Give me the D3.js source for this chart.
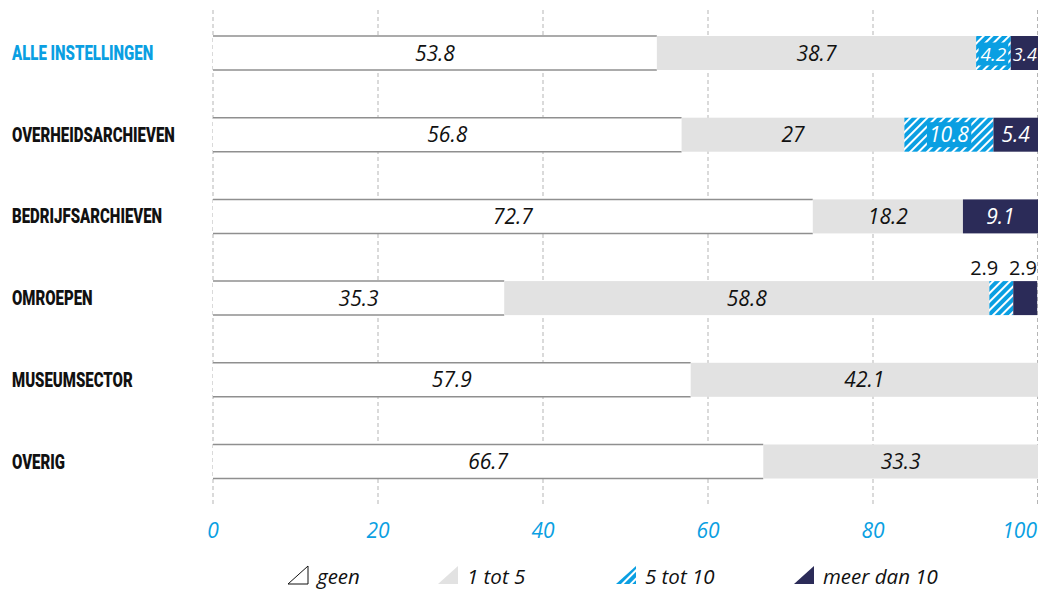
<!DOCTYPE html>
<html>
<head>
<meta charset="utf-8">
<script src="https://cdn.jsdelivr.net/npm/d3@7"></script>
<style>
  body { margin: 0; background: #fff; }
  svg { display: block; }
</style>
</head>
<body>
<div id="plot"></div>
<script>
var categories = ["ALLE INSTELLINGEN", "OVERHEIDSARCHIEVEN", "BEDRIJFSARCHIEVEN", "OMROEPEN", "MUSEUMSECTOR", "OVERIG"];
var seriesNames = ["geen", "1 tot 5", "5 tot 10", "meer dan 10"];
var geen = [53.8, 56.8, 72.7, 35.3, 57.9, 66.7];
var een_tot_5 = [38.7, 27, 18.2, 58.8, 42.1, 33.3];
var vijf_tot_10 = [4.2, 10.8, 0, 2.9, 0, 0];
var meer_dan_10 = [3.4, 5.4, 9.1, 2.9, 0, 0];
var ticks = [0, 20, 40, 60, 80, 100];

const w = 1038;
const h = 590;
const blue = "#0a9fe2";
const navy = "#2b2b58";
const grey = "#e2e2e2";

const series = [geen, een_tot_5, vijf_tot_10, meer_dan_10];

const xScale = d3.scaleLinear().domain([0, 100]).range([213, 1038]);
const yScale = d3.scalePoint().domain(categories).range([53, 461.5]);
const barH = 34;

const svg = d3.select("div#plot")
  .append("svg")
  .attr("width", w)
  .attr("height", h);

const defs = svg.append("defs");
const pat = defs.append("pattern")
  .attr("id", "hatch")
  .attr("patternUnits", "userSpaceOnUse")
  .attr("width", 6)
  .attr("height", 6)
  .attr("patternTransform", "rotate(45)");
pat.append("rect").attr("width", 6).attr("height", 6).attr("fill", blue);
pat.append("rect").attr("width", 2).attr("height", 6).attr("fill", "#fff");

// dashed grid
svg.append("g").selectAll("line")
  .data(ticks)
  .enter()
  .append("line")
  .attr("x1", d => xScale(d) - (d === 100 ? 0.5 : 0))
  .attr("x2", d => xScale(d) - (d === 100 ? 0.5 : 0))
  .attr("y1", 10)
  .attr("y2", 507)
  .attr("stroke", "#b5b5b5")
  .attr("stroke-dasharray", "4,3");

// stacked rows
const rows = categories.map((c, i) => {
  let acc = 0;
  return series.map((s, k) => {
    const seg = { cat: c, k: k, v: s[i], x0: acc, x1: acc + s[i] };
    acc += s[i];
    return seg;
  });
});

const fills = ["#fff", grey, "url(#hatch)", navy];

const g = svg.append("g");
rows.forEach(row => {
  const yc = yScale(row[0].cat);
  const top = yc - barH / 2;
  row.forEach(seg => {
    if (seg.v <= 0) return;
    const x0 = xScale(seg.x0);
    const x1 = Math.min(xScale(seg.x1), w);
    g.append("rect")
      .attr("x", x0)
      .attr("y", top)
      .attr("width", x1 - x0)
      .attr("height", barH)
      .attr("fill", fills[seg.k]);
    if (seg.k === 0) {
      [top, top + barH].forEach(yy => {
        g.append("line")
          .attr("x1", x0).attr("x2", x1)
          .attr("y1", yy).attr("y2", yy)
          .attr("stroke", "#8f8f8f")
          .attr("stroke-width", 1.5);
      });
    }
  });
});

// value labels
const valFont = "'Open Sans', 'Noto Sans', sans-serif";
rows.forEach(row => {
  const yc = yScale(row[0].cat);
  const small = row[2].v > 0 && row[2].v < 4;
  row.forEach(seg => {
    if (seg.v <= 0) return;
    const txt = String(seg.v);
    if (small && seg.k >= 2) {
      // labels above the bar when segments are too narrow
      const xr = seg.k === 3 ? xScale(100) - 1 : xScale(seg.x1) - 15;
      g.append("text")
        .attr("x", xr)
        .attr("y", yc - barH / 2 - 6)
        .attr("text-anchor", "end")
        .attr("font-family", valFont)
        .attr("font-size", 20)
        .attr("fill", "#111")
        .text(txt);
      return;
    }
    let cx = (xScale(seg.x0) + Math.min(xScale(seg.x1), w)) / 2;
    const t = g.append("text")
      .attr("x", cx)
      .attr("y", yc + 7.5)
      .attr("text-anchor", "middle")
      .attr("font-family", valFont)
      .attr("font-style", "italic")
      .attr("font-size", 21)
      .attr("fill", seg.k >= 2 ? "#fff" : "#111")
      .text(txt);
    if (seg.k === 3 && xScale(seg.x1) > w) {
      t.attr("text-anchor", "end").attr("x", w - 1).attr("font-size", 18);
    }
    if (seg.k === 2) {
      t.attr("font-size", seg.v < 5 ? 19 : 21);
      const bb = t.node().getBBox();
      g.insert("rect", () => t.node())
        .attr("x", bb.x - 2)
        .attr("y", bb.y + 2)
        .attr("width", bb.width + 4)
        .attr("height", bb.height - 3)
        .attr("fill", blue);
    }
  });
});

// category labels (condensed look via horizontal scale)
svg.append("g").selectAll("text")
  .data(categories)
  .enter()
  .append("text")
  .attr("transform", d => `translate(12,${yScale(d) + 7}) scale(0.75,1)`)
  .attr("font-family", "Roboto, 'Noto Sans', sans-serif")
  .attr("font-weight", 900)
  .attr("font-size", 20)
  .attr("fill", (d, i) => i === 0 ? blue : "#111")
  .text(d => d);

// x axis labels
svg.append("g").selectAll("text")
  .data(ticks)
  .enter()
  .append("text")
  .attr("x", d => d === 100 ? xScale(d) - 1 : xScale(d))
  .attr("y", 538)
  .attr("text-anchor", d => d === 100 ? "end" : "middle")
  .attr("font-family", valFont)
  .attr("font-style", "italic")
  .attr("font-size", 21)
  .attr("fill", blue)
  .text(d => d);

// legend
const legendX = [288, 438, 616, 794];
const lg = svg.append("g");
seriesNames.forEach((name, k) => {
  const x = legendX[k];
  const yb = 584;
  lg.append("path")
    .attr("d", `M${x},${yb} L${x + 20},${yb} L${x + 20},${yb - 18} Z`)
    .attr("fill", k === 0 ? "#fff" : fills[k])
    .attr("stroke", k === 0 ? "#111" : "none")
    .attr("stroke-width", 1);
  lg.append("text")
    .attr("x", x + 29)
    .attr("y", yb)
    .attr("font-family", valFont)
    .attr("font-style", "italic")
    .attr("font-size", 20.5)
    .attr("fill", "#111")
    .text(name);
});
</script>
</body>
</html>
